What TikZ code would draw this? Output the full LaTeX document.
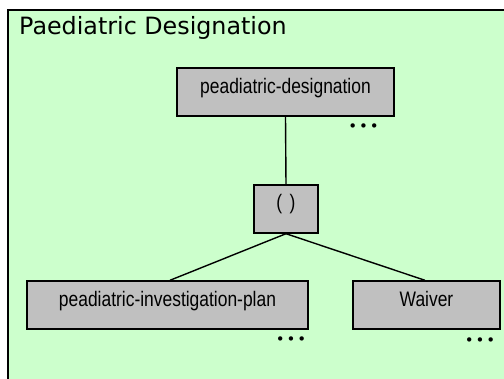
\documentclass[tikz,border=0pt]{standalone}
\usepackage{fontspec}
\setmainfont{Liberation Sans}
\newfontfamily\titlefont{DejaVu Sans}
\newfontfamily\dotfont{DejaVu Sans}
\definecolor{panelgreen}{HTML}{CCFFCC}
\definecolor{boxgrey}{HTML}{C0C0C0}
\tikzset{
  elembox/.style={draw=black, fill=boxgrey, line width=1.4pt, inner sep=0pt},
  elemlabel/.style={inner sep=0pt, font=\fontsize{21}{21}\selectfont},
  dotslabel/.style={inner sep=0pt, font=\dotfont\fontsize{15}{15}\selectfont},
  link/.style={line width=1.4pt, draw=black},
}
\newcommand{\narrow}[1]{\scalebox{0.83}[1]{#1}}
\newcommand{\threedots}{•\hspace{1.9pt}•\hspace{1.9pt}•}
\begin{document}
\begin{tikzpicture}[x=1pt,y=-1pt]
\useasboundingbox (0,0) rectangle (504,379);
\begin{scope}
\clip (0,0) rectangle (504,379);
\draw[fill=panelgreen, line width=2pt] (8,10) rectangle (530,400);
\end{scope}
\node[anchor=base west, inner sep=0pt, font=\titlefont\fontsize{23.8}{24}\selectfont] (title) at (19,35) {Paediatric Designation};

\node[elembox, minimum width=217pt, minimum height=48pt] (pd) at (285.5,92) {};
\node[elemlabel, anchor=base] (pdt) at ([yshift=-1.5pt]pd.center) {\narrow{peadiatric-designation}};

\node[elembox, minimum width=64pt, minimum height=48pt] (ch) at (286,209) {};
\node[elemlabel, anchor=base] (cht) at ([yshift=-0.5pt]ch.center) {\narrow{(\hspace{9pt})}};

\node[elembox, minimum width=281pt, minimum height=48pt] (pip) at (167.5,305) {};
\node[elemlabel, anchor=base] (pipt) at ([yshift=-1.5pt]pip.center) {\narrow{peadiatric-investigation-plan}};

\node[elembox, minimum width=147pt, minimum height=48pt] (wv) at (426.5,305) {};
\node[elemlabel, anchor=base] (wvt) at ([yshift=-1.5pt]wv.center) {\narrow{Waiver}};

\draw[link] (pd.south) -- (ch.north);
\draw[link] (ch.south) -- ([xshift=2.5pt]pip.north);
\draw[link] (ch.south) -- ([xshift=-1.5pt]wv.north);

\node[dotslabel] (pdd) at (363.5,128) {\threedots};
\node[dotslabel] (pipd) at (291,341) {\threedots};
\node[dotslabel] (wvd) at (480,342) {\threedots};
\end{tikzpicture}
\end{document}
